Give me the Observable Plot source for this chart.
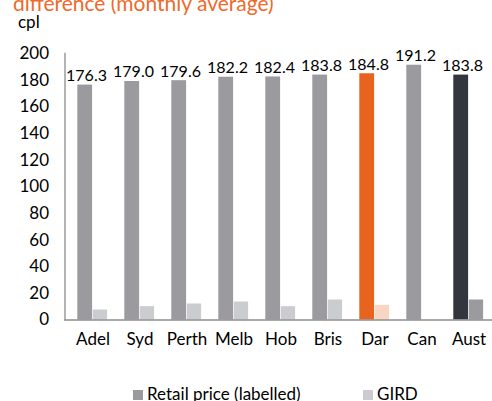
<!DOCTYPE html>
<html>
<head>
<meta charset="utf-8">
<script src="https://cdn.jsdelivr.net/npm/d3@7"></script>
<script src="https://cdn.jsdelivr.net/npm/@observablehq/plot@0.6"></script>
<style>
  html, body { margin: 0; padding: 0; background: #fff; overflow: hidden; }
  body { width: 492px; height: 401px; position: relative; font-family: Lato, "Open Sans", sans-serif; }
  .abs { position: absolute; white-space: nowrap; }
  #title { left: 13px; top: -8px; font-size: 21px; line-height: 21px; color: #ee6a2c; }
  #unit { left: 18px; top: 13px; font-size: 17px; line-height: 17px; color: #000; }
  .legend { top: 385px; font-size: 17px; line-height: 17px; color: #000; }
  .sw { position: absolute; width: 10px; height: 10px; top: 390px; }
  #chart { position: absolute; left: 0; top: 0; }
</style>
</head>
<body>
<div id="chart"></div>
<div id="title" class="abs">difference (monthly average)</div>
<div id="unit" class="abs">cpl</div>
<div class="sw" style="left:133px;background:#9a9a9f"></div>
<div class="abs legend" style="left:147px">Retail price (labelled)</div>
<div class="sw" style="left:363px;background:#cbccd0"></div>
<div class="abs legend" style="left:377px">GIRD</div>
<script>
const cities = ["Adel", "Syd", "Perth", "Melb", "Hob", "Bris", "Dar", "Can", "Aust"];
const retail = [176.3, 179.0, 179.6, 182.2, 182.4, 183.8, 184.8, 191.2, 183.8];
const gird = [7.5, 10, 12, 13.5, 10, 15, 11, 0, 15];
const yTicks = [0, 20, 40, 60, 80, 100, 120, 140, 160, 180, 200];

const data = cities.map((c, i) => ({city: c, retail: retail[i], gird: gird[i]}));

const retailFill = d => d.city === "Dar" ? "#e8641e" : d.city === "Aust" ? "#33353f" : "#9a9a9f";
const girdFill = d => d.city === "Dar" ? "#f9d6c4" : d.city === "Aust" ? "#9a9a9f" : "#cbccd0";

const chart = Plot.plot({
  width: 492,
  height: 401,
  marginTop: 53,
  marginBottom: 81.5,
  marginLeft: 64.5,
  marginRight: 0,
  style: {fontFamily: "Lato, 'Open Sans', sans-serif", color: "#000", background: "transparent"},
  x: {domain: cities, range: [65.7, 494.9], padding: 0},
  y: {domain: [0, 200]},
  marks: [
    Plot.barY(data, {x: "city", y: "retail", fill: retailFill, insetLeft: 8.3, insetRight: 23.9}),
    Plot.barY(data.filter(d => d.gird > 0), {x: "city", y: "gird", fill: girdFill, insetLeft: 23.8, insetRight: 8.9}),
    Plot.text(data, {x: "city", y: "retail", text: d => d.retail.toFixed(1), dx: -6.5, dy: -4, lineAnchor: "bottom", fontSize: 16, fill: "#000"}),
    Plot.axisY({ticks: yTicks, tickSize: 0, tickPadding: 16, fontSize: 17, label: null}),
    Plot.axisX({tickSize: 0, tickPadding: 12.5, fontSize: 17, label: null}),
    Plot.frame({anchor: "left", stroke: "#8c8c8c", strokeWidth: 1.3}),
    Plot.ruleY([0], {stroke: "#8c8c8c", strokeWidth: 1.3})
  ]
});
document.getElementById("chart").appendChild(chart);
</script>
</body>
</html>
